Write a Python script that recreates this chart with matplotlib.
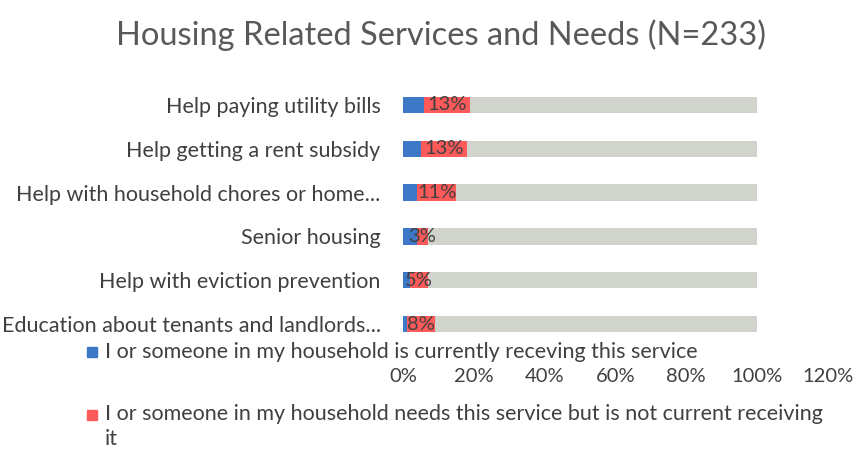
import matplotlib
matplotlib.use('Agg')
import matplotlib.pyplot as plt
from matplotlib.patches import Rectangle

plt.rcParams['font.family'] = ['Lato', 'DejaVu Sans']

# survey data (percent of respondents)
services = ['Help paying utility bills',
            'Help getting a rent subsidy',
            'Help with household chores or home...',
            'Senior housing',
            'Help with eviction prevention',
            'Education about tenants and landlords...']
receiving = [6, 5, 4, 4, 2, 1]
needs = [13, 13, 11, 3, 5, 8]
rest = [100 - r - n for r, n in zip(receiving, needs)]

x_ticks = [0, 20, 40, 60, 80, 100, 120]

legend_recv = 'I or someone in my household is currently receving this service'
legend_need = 'I or someone in my household needs this service but is not current receiving\nit'

blue = '#3d78c6'
red = '#ff5a5a'
grey = '#d0d4cc'
txt = '#404040'

fig = plt.figure(figsize=(8.55, 4.5), dpi=100)
ax = fig.add_axes([0.4713, 0.2311, 0.4968, 0.5844])

ypos = list(range(len(services)))
h = 0.37
ax.barh(ypos, receiving, height=h, color=blue)
bars_need = ax.barh(ypos, needs, left=receiving, height=h, color=red)
ax.barh(ypos, rest, left=[r + n for r, n in zip(receiving, needs)], height=h, color=grey)

# value labels on the "needs" segment
for b, v in zip(bars_need, needs):
    ax.text(b.get_x() + b.get_width() / 2, b.get_y() + b.get_height() / 2,
            f'{v}%', ha='center', va='center', fontsize=14.5, color=txt)

ax.set_xlim(0, 120)
ax.set_ylim(len(services) - 0.5, -0.5)
ax.set_yticks(ypos)
ax.set_yticklabels(services, fontsize=15.5, color=txt)
ax.set_xticks(x_ticks)
ax.set_xticklabels([f'{t}%' for t in x_ticks], fontsize=14.5, color=txt)
ax.tick_params(axis='x', length=0, pad=16)
ax.tick_params(axis='y', length=0, pad=16)
for s in ax.spines.values():
    s.set_visible(False)

fig.text(0.516, 0.922, 'Housing Related Services and Needs (N=233)',
         ha='center', va='center', fontsize=23.5, color='#595959')

# legend entries drawn by hand: one above, one below the tick labels
sq_w, sq_h = 10 / 855, 10 / 450
fig.patches.append(Rectangle((87 / 855, 1 - 357 / 450), sq_w, sq_h,
                             color=blue, transform=fig.transFigure))
fig.text(105 / 855, 1 - 352 / 450, legend_recv, ha='left', va='center',
         fontsize=15.5, color=txt)
fig.patches.append(Rectangle((87 / 855, 1 - 420 / 450), sq_w, sq_h,
                             color=red, transform=fig.transFigure))
fig.text(105 / 855, 1 - 404 / 450, legend_need, ha='left', va='top',
         fontsize=15.5, color=txt, linespacing=1.3)

fig.savefig('out.png', dpi=100)
